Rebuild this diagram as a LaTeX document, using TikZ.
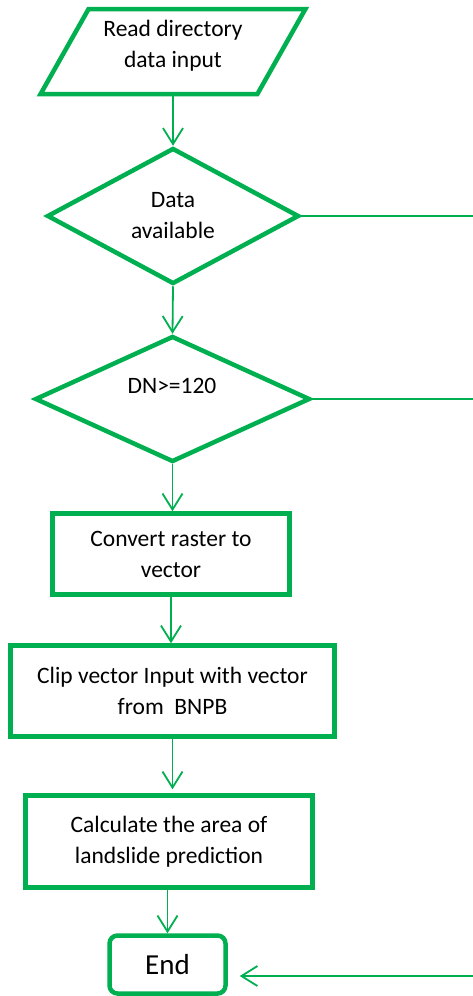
\documentclass[tikz,border=0pt]{standalone}
\usepackage{fontspec}
\setmainfont{Carlito}
\usepackage{xcolor}
\usetikzlibrary{shapes.geometric,arrows.meta,positioning}
\definecolor{flowgreen}{RGB}{0,176,80}

\begin{document}
\begin{tikzpicture}[x=1pt,y=-1pt,
    every node/.style={font=\fontsize{23.5}{31}\selectfont, align=center, inner sep=0pt},
    shapeline/.style={draw=flowgreen, line width=4.5pt, fill=white},
    inout/.style={shapeline, trapezium, trapezium left angle=58, trapezium right angle=122, trapezium stretches=true},
    decision/.style={shapeline, diamond},
    procbox/.style={shapeline, rectangle},
    endbox/.style={shapeline, rectangle, rounded corners=8pt, font=\fontsize{29}{34}\selectfont},
    flow/.style={draw=flowgreen, line width=1.8pt, -{Straight Barb[length=16pt,width=20pt,line width=1.8pt]}},
    link/.style={draw=flowgreen, line width=1.8pt}]
    \useasboundingbox (0,0) rectangle (473,996);

    % Input
    \node[inout, minimum width=265pt, minimum height=85pt, text depth=16pt] (read) at (173,51.5) {Read directory\\data input};

    % Decisions
    \node[decision, minimum width=252pt, minimum height=136pt] (avail) at (173,216) {Data\\available};
    \node[decision, minimum width=275pt, minimum height=126pt] (dn) at (172.5,399) {};
    \node (dntxt) at (172,386) {DN>=120};

    % Process steps
    \node[procbox, minimum width=237pt, minimum height=81pt] (convert) at (171,554) {Convert raster to\\vector};
    \node[procbox, minimum width=324pt, minimum height=91pt] (clip) at (172.5,691) {Clip vector Input with vector\\from\ \ BNPB};
    \node[procbox, minimum width=287pt, minimum height=92pt] (calc) at (169,841.5) {Calculate the area of\\landslide prediction};
    \node[endbox, minimum width=116pt, minimum height=58pt] (end) at (167.5,964.5) {End};

    % Main flow
    \draw[flow] (avail.north |- read.south) -- (avail.north);
    \draw[flow] (avail.south) -- (dn.north);
    \draw[flow] (dn.south) -- (dn.south |- convert.north);
    \draw[flow] (convert.south) -- (convert.south |- clip.north);
    \draw[flow] ([yshift=4pt]clip.south) -- ([yshift=4pt]clip.south |- calc.north);
    \draw[flow] (end.north |- calc.south) -- (end.north);

    % Side exits
    \coordinate (availexit) at (473,216);
    \coordinate (dnexit) at (473,399);
    \coordinate (endentry) at (473,976);
    \draw[link] (avail.east) -- (availexit);
    \draw[link] (dn.east) -- (dnexit);
    \draw[flow, shorten >=12pt] (endentry) -- (endentry -| end.east);
\end{tikzpicture}
\end{document}
